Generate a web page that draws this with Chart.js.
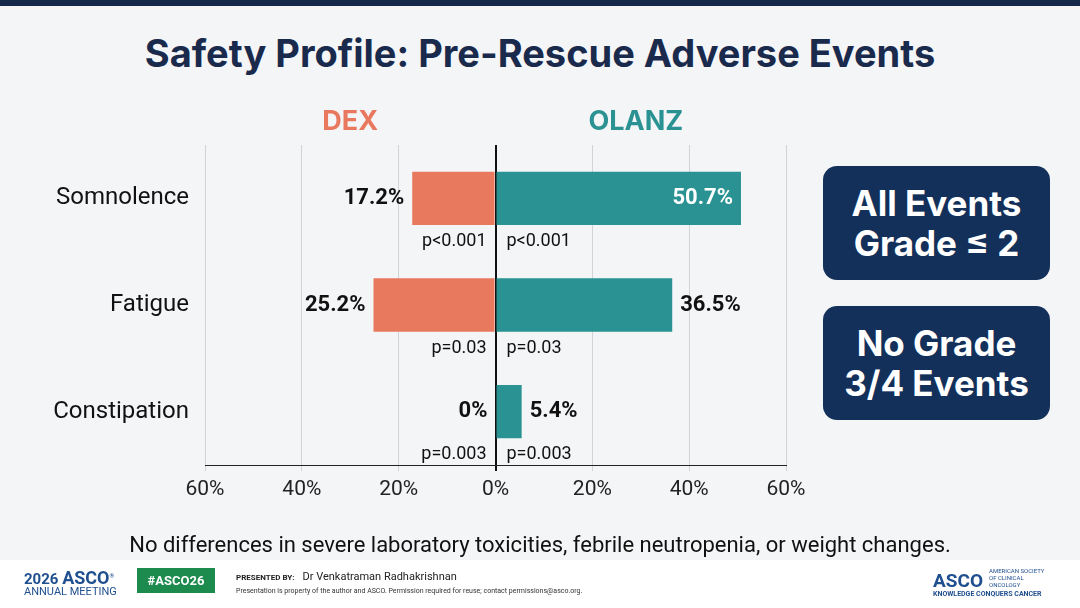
<!DOCTYPE html>
<html><head><meta charset="utf-8">
<script src="https://cdn.jsdelivr.net/npm/chart.js@4"></script>
<style>
body{margin:0;width:1080px;height:608px;overflow:hidden;background:#f4f5f7;font-family:Roboto,"Noto Sans",sans-serif;position:relative}
#top{position:absolute;left:0;top:0;width:1080px;height:6px;background:#14284b}
#title{position:absolute;left:0;top:30px;width:1080px;text-align:center;font:bold 38px Inter,Roboto,sans-serif;color:#1a2a4c}
canvas{position:absolute;left:0;top:0}
.box{position:absolute;left:823px;width:227px;height:114px;background:#13305a;border-radius:14px;color:#fff;font:bold 35px Inter,Roboto,sans-serif;text-align:center;display:flex;align-items:center;justify-content:center;line-height:40px}
#note{position:absolute;left:0;top:532px;width:1080px;text-align:center;font-size:22px;color:#111}
#foot{position:absolute;left:0;top:560px;width:1080px;height:48px;background:#fff}
</style></head><body>
<div id="top"></div>
<div id="title">Safety Profile: Pre-Rescue Adverse Events</div>
<canvas id="c" width="1080" height="608"></canvas>
<div class="box" style="top:166px">All Events<br>Grade ≤ 2</div>
<div class="box" style="top:306px">No Grade<br>3/4 Events</div>
<div id="note">No differences in severe laboratory toxicities, febrile neutropenia, or weight changes.</div>
<div id="foot">
  <div style="position:absolute;left:24px;top:7px;font:bold 15px Roboto;color:#1f4f8f">2026 <span style="font-size:18px">ASCO</span><sup style="font-size:6px">®</sup></div>
  <div style="position:absolute;left:24px;top:25px;font:11px Roboto;color:#1f4f8f">ANNUAL MEETING</div>
  <div style="position:absolute;left:137px;top:8px;width:78px;height:25px;background:#1d8a4e;color:#fff;font:bold 13px Roboto;text-align:center;line-height:25px">#ASCO26</div>
  <div style="position:absolute;left:236px;top:10px;font:bold 8px Roboto;color:#222">PRESENTED BY: <span style="font:11px Roboto;margin-left:6px">Dr Venkatraman Radhakrishnan</span></div>
  <div style="position:absolute;left:236px;top:27px;font:7px Roboto;color:#333">Presentation is property of the author and ASCO. Permission required for reuse; contact permissions@asco.org.</div>
  <div style="position:absolute;left:933px;top:7px;font:bold 19px Roboto;color:#1f4f8f">ASCO<span style="font:6px Roboto;display:inline-block;width:60px;margin-left:6px;line-height:7px">AMERICAN SOCIETY OF CLINICAL ONCOLOGY</span></div>
  <div style="position:absolute;left:933px;top:30px;font:bold 7px Roboto;color:#1f4f8f">KNOWLEDGE CONQUERS CANCER</div>
</div>
<script>
const categories = ['Somnolence', 'Fatigue', 'Constipation'];
const dexValues = [17.2, 25.2, 0];
const olanzValues = [50.7, 36.5, 5.4];
const pValues = ['p<0.001', 'p=0.03', 'p=0.003'];
const xTicks = [-60, -40, -20, 0, 20, 40, 60];

const DEX = '#e8785e', OLANZ = '#2a9292';

const labelsPlugin = {
  id: 'labels',
  afterDraw(chart) {
    const ctx = chart.ctx, x = chart.scales.x, y = chart.scales.y;
    ctx.save();
    ctx.font = 'bold 27px Inter, Roboto, sans-serif';
    ctx.textAlign = 'center'; ctx.textBaseline = 'middle';
    ctx.fillStyle = DEX; ctx.fillText('DEX', x.getPixelForValue(-30), 122);
    ctx.fillStyle = OLANZ; ctx.fillText('OLANZ', x.getPixelForValue(29), 122);
    const zero = x.getPixelForValue(0);
    categories.forEach((c, i) => {
      const yc = y.getPixelForValue(i);
      ctx.font = 'bold 22px Roboto, sans-serif';
      ctx.fillStyle = '#111'; ctx.textAlign = 'right';
      ctx.fillText(dexValues[i] + '%', x.getPixelForValue(-dexValues[i]) - 8, yc);
      const xe = x.getPixelForValue(olanzValues[i]);
      if (olanzValues[i] > 45) { ctx.fillStyle = '#fff'; ctx.textAlign = 'right'; ctx.fillText(olanzValues[i] + '%', xe - 8, yc); }
      else { ctx.fillStyle = '#111'; ctx.textAlign = 'left'; ctx.fillText(olanzValues[i] + '%', xe + 8, yc); }
      ctx.font = '18px Roboto, sans-serif'; ctx.fillStyle = '#111';
      ctx.textAlign = 'right'; ctx.fillText(pValues[i], zero - 9, yc + 43);
      ctx.textAlign = 'left'; ctx.fillText(pValues[i], zero + 11, yc + 43);
    });
    ctx.restore();
  }
};

new Chart(document.getElementById('c'), {
  type: 'bar',
  data: {
    labels: categories,
    datasets: [
      { label: 'DEX', data: dexValues.map(v => -v), backgroundColor: DEX },
      { label: 'OLANZ', data: olanzValues, backgroundColor: OLANZ }
    ]
  },
  options: {
    indexAxis: 'y', responsive: false, animation: false,
    layout: { padding: { left: 0, right: 294, top: 145, bottom: 113 } },
    datasets: { bar: { categoryPercentage: 1, barPercentage: 0.5 } },
    plugins: { legend: { display: false }, tooltip: { enabled: false } },
    scales: {
      x: {
        stacked: true, min: -60, max: 60,
        afterBuildTicks: s => { s.ticks = xTicks.map(v => ({ value: v })); },
        afterFit: s => { s.height = 30; },
        ticks: { callback: v => Math.abs(v) + '%', color: '#222', font: { size: 21, family: 'Roboto' }, padding: 6 },
        grid: { color: c => c.tick && c.tick.value === 0 ? '#111' : '#d0d3d8', lineWidth: c => c.tick && c.tick.value === 0 ? 2 : 1, drawTicks: true, tickLength: 6 },
        border: { color: '#222' }
      },
      y: {
        stacked: true,
        afterFit: s => { s.width = 205; },
        ticks: { color: '#111', font: { size: 24, family: 'Roboto' }, padding: 8 },
        grid: { display: false }, border: { display: false }
      }
    }
  },
  plugins: [labelsPlugin]
});
</script>
</body></html>
